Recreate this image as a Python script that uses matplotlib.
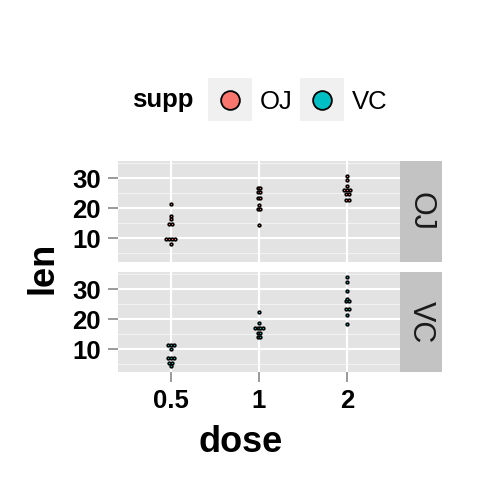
import matplotlib
matplotlib.use("Agg")
import matplotlib.pyplot as plt
from matplotlib.patches import Rectangle

plt.rcParams['font.family'] = ['Liberation Sans', 'DejaVu Sans']

# ToothGrowth: len by supp and dose
supp_levels = ['OJ', 'VC']
dose_levels = ['0.5', '1', '2']
supp_colors = ['#F8766D', '#00BFC4']
len_oj = {
    '0.5': [15.2, 21.5, 17.6, 9.7, 14.5, 10.0, 8.2, 9.4, 16.5, 9.7],
    '1': [19.7, 23.3, 23.6, 26.4, 20.0, 25.2, 25.8, 21.2, 14.5, 27.3],
    '2': [25.5, 26.4, 22.4, 24.5, 24.8, 30.9, 26.4, 27.3, 29.4, 23.0],
}
len_vc = {
    '0.5': [4.2, 11.5, 7.3, 5.8, 6.4, 10.0, 11.2, 11.2, 5.2, 7.0],
    '1': [16.5, 16.5, 15.2, 17.3, 22.5, 17.3, 13.6, 14.5, 18.8, 15.5],
    '2': [23.6, 18.5, 33.9, 25.5, 26.4, 32.5, 26.7, 21.5, 23.3, 29.5],
}
y_ticks = [10, 20, 30]
y_minor = [5, 15, 25, 35]

W = 480.0
ylim = (2.2, 35.77)
xlim = (0.4, 3.6)
panel_w = 282.0
panel_h = 100.7


def dot_bins(vals, bw):
    # dotdensity binning as in ggplot2 geom_dotplot
    v = sorted(vals)
    groups = []
    binend = -1e9
    for x in v:
        if x >= binend:
            binend = x + bw
            groups.append([])
        groups[-1].append(x)
    return [((min(g) + max(g)) / 2, len(g)) for g in groups]


all_vals = [x for d in (len_oj, len_vc) for k in d for x in d[k]]
binwidth = (max(all_vals) - min(all_vals)) / 30
px_y = panel_h / (ylim[1] - ylim[0])
px_x = panel_w / (xlim[1] - xlim[0])
step_x = binwidth * px_y / px_x

fig = plt.figure(figsize=(4.8, 4.8), dpi=100)
tops = [161.0, 271.7]
for p, (supp, data) in enumerate(zip(supp_levels, [len_oj, len_vc])):
    ax = fig.add_axes([118 / W, 1 - (tops[p] + panel_h) / W, panel_w / W, panel_h / W])
    ax.set_facecolor('#E3E3E3')
    for s in ax.spines.values():
        s.set_visible(False)
    for yv in y_minor:
        ax.axhline(yv, color='#F2F2F2', lw=0.8, zorder=0.5)
    for yv in y_ticks:
        ax.axhline(yv, color='white', lw=1.5, zorder=0.6)
    for i in range(len(dose_levels)):
        ax.axvline(i + 1, color='white', lw=1.5, zorder=0.6)
    xs, ys = [], []
    for i, d in enumerate(dose_levels):
        for center, n in dot_bins(data[d], binwidth):
            for k in range(n):
                xs.append(i + 1 + (k - (n - 1) / 2) * step_x)
                ys.append(center)
    ax.plot(xs, ys, 'o', ms=2.0, mfc=supp_colors[p], mec='black', mew=1.1, zorder=3)
    ax.set_xlim(*xlim)
    ax.set_ylim(*ylim)
    ax.set_yticks(y_ticks)
    ax.set_yticklabels([str(t) for t in y_ticks], fontsize=18.5, fontweight='bold')
    ax.set_xticks(range(1, len(dose_levels) + 1))
    if p == 1:
        ax.set_xticklabels(dose_levels, fontsize=18.5, fontweight='bold')
        ax.tick_params(axis='x', length=7.5, width=1.1, color='#7F7F7F', pad=4.5)
    else:
        ax.tick_params(axis='x', length=0, labelbottom=False)
    ax.tick_params(axis='y', length=7.5, width=1.1, color='#7F7F7F', pad=5)

    sax = fig.add_axes([400 / W, 1 - (tops[p] + panel_h) / W, 41.7 / W, panel_h / W])
    sax.set_facecolor('#C3C3C3')
    sax.set_xticks([])
    sax.set_yticks([])
    for s in sax.spines.values():
        s.set_visible(False)
    sax.text(0.5, 0.5, supp, rotation=-90, ha='center', va='center',
             fontsize=22, color='#1A1A1A', transform=sax.transAxes)

# axis titles
fig.text(241 / W, 1 - 452 / W, 'dose', ha='center', va='baseline',
         fontsize=26, fontweight='bold')
fig.text(43 / W, 1 - 268 / W, 'len', ha='center', va='center', rotation=90,
         fontsize=26, fontweight='bold')

# legend on top
fig.text(132 / W, 1 - 107.3 / W, 'supp', ha='left', va='baseline',
         fontsize=18.5, fontweight='bold')
key_x = [208, 300]
for j, lab in enumerate(supp_levels):
    fig.patches.append(Rectangle((key_x[j] / W, 1 - 121 / W), 44 / W, 43 / W,
                                 transform=fig.transFigure, facecolor='#F0F0F0',
                                 edgecolor='none'))
    fig.lines.append(plt.Line2D([(key_x[j] + 22) / W], [1 - 99.5 / W], marker='o',
                                ms=13.5, mfc=supp_colors[j], mec='black', mew=1.3,
                                transform=fig.transFigure))
    fig.text((key_x[j] + 52) / W, 1 - 109.3 / W, lab, ha='left', va='baseline',
             fontsize=18.5)

fig.savefig('out.png', dpi=100)
